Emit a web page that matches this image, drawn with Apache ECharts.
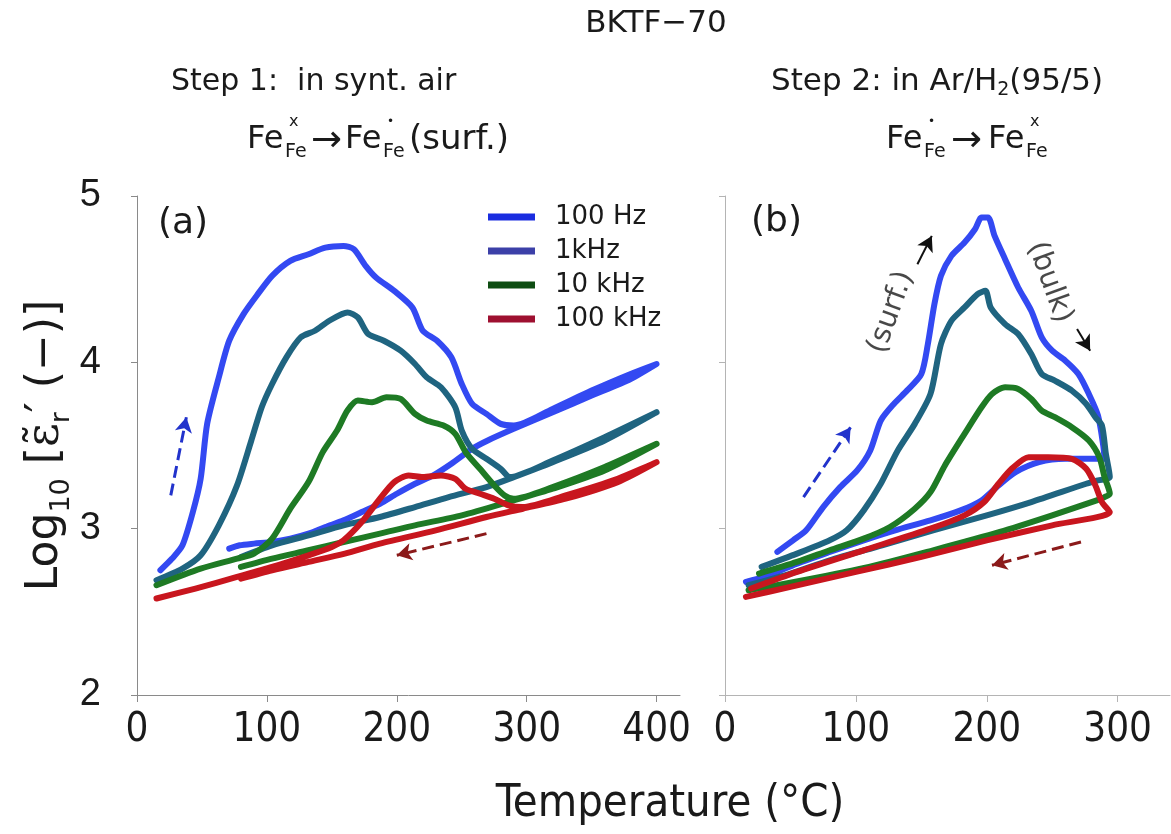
<!DOCTYPE html>
<html><head><meta charset="utf-8">
<script src="https://cdn.jsdelivr.net/npm/echarts@6/dist/echarts.min.js"></script>
<style>html,body{margin:0;padding:0;background:#fff}#c{width:1171px;height:834px}</style>
</head><body><div id="c"></div>
<script>
// ---------- data ----------
const seriesNames = ['100 Hz', '1kHz', '10 kHz', '100 kHz'];
const xTicksA = [0, 100, 200, 300, 400];
const xTicksB = [0, 100, 200, 300];
const yTicks = [2, 3, 4, 5];

// Panel (a): Step 1 in synthetic air (heating, then cooling)
const a100Hz = [[18,2.75],[27,2.82],[35,2.90],[43,3.10],[49,3.30],[54,3.63],[63,3.91],[71,4.13],[82,4.29],[93,4.41],[104,4.52],[118,4.61],[132,4.65],[145,4.69],[159,4.70],[167,4.68],[176,4.58],[184,4.51],[198,4.43],[212,4.33],[220,4.19],[231,4.13],[242,4.03],[250,3.87],[258,3.75],[269,3.69],[280,3.63],[290,3.62],[320,3.72],[350,3.83],[380,3.93],[400,3.99],
  [380,3.90],[350,3.80],[320,3.70],[290,3.60],[270,3.53],[258,3.48],[242,3.39],[228,3.32],[214,3.27],[200,3.21],[187,3.15],[173,3.10],[159,3.05],[145,3.01],[132,2.97],[118,2.94],[104,2.92],[90,2.91],[79,2.90],[71,2.88]];
const a1kHz = [[15,2.69],[35,2.76],[49,2.84],[63,3.02],[77,3.26],[88,3.53],[96,3.73],[104,3.87],[115,4.03],[126,4.15],[137,4.19],[148,4.25],[162,4.30],[170,4.27],[178,4.17],[190,4.13],[203,4.07],[214,3.99],[223,3.91],[234,3.85],[245,3.73],[250,3.59],[258,3.48],[269,3.42],[280,3.36],[287,3.31],[320,3.41],[360,3.55],[400,3.70],
  [360,3.53],[320,3.40],[290,3.31],[269,3.25],[240,3.19],[214,3.13],[187,3.07],[159,3.02],[132,2.96],[104,2.90],[80,2.83]];
const a10kHz = [[15,2.66],[49,2.76],[77,2.82],[90,2.85],[104,2.94],[118,3.12],[132,3.28],[143,3.46],[154,3.59],[162,3.71],[170,3.77],[181,3.76],[192,3.79],[203,3.78],[214,3.69],[223,3.65],[236,3.62],[245,3.57],[253,3.46],[264,3.36],[275,3.26],[283,3.20],[290,3.18],[320,3.25],[360,3.37],[400,3.51],
  [360,3.35],[320,3.24],[290,3.17],[250,3.08],[214,3.02],[187,2.97],[159,2.92],[132,2.87],[104,2.82],[80,2.77]];
const a100kHz = [[15,2.58],[45,2.64],[77,2.71],[104,2.77],[132,2.84],[150,2.89],[159,2.93],[173,3.04],[187,3.18],[198,3.28],[209,3.32],[220,3.31],[234,3.32],[245,3.30],[253,3.24],[264,3.21],[275,3.18],[286,3.14],[297,3.13],[330,3.20],[370,3.30],[400,3.40],
  [370,3.28],[330,3.18],[297,3.12],[269,3.07],[230,2.99],[187,2.91],[160,2.85],[132,2.80],[104,2.75],[80,2.70]];

// Panel (b): Step 2 in Ar/H2 (95/5)
const b100Hz = [[40,2.86],[52,2.93],[62,2.99],[75,3.13],[88,3.25],[101,3.35],[111,3.47],[119,3.65],[129,3.75],[139,3.83],[150,3.93],[155,4.11],[160,4.35],[165,4.52],[173,4.64],[183,4.72],[191,4.80],[196,4.87],[201,4.87],[206,4.76],[214,4.62],[224,4.45],[234,4.31],[242,4.15],[250,4.07],[260,4.01],[270,3.93],[278,3.81],[285,3.68],[289,3.50],[290,3.42],
  [283,3.42],[260,3.42],[240,3.40],[222,3.34],[209,3.26],[196,3.17],[180,3.11],[157,3.05],[130,2.99],[106,2.93],[80,2.86],[55,2.79],[30,2.71],[16,2.68]];
const b1kHz = [[28,2.77],[55,2.85],[80,2.93],[93,2.99],[106,3.11],[119,3.27],[132,3.47],[145,3.63],[157,3.81],[165,4.11],[173,4.25],[183,4.33],[193,4.41],[199,4.43],[203,4.33],[214,4.23],[224,4.17],[234,4.05],[242,3.93],[252,3.89],[265,3.83],[276,3.75],[283,3.67],[288,3.62],[291,3.45],[294,3.31],
  [285,3.29],[276,3.27],[234,3.16],[200,3.08],[159,2.99],[120,2.90],[80,2.81],[50,2.73],[18,2.66]];
const b10kHz = [[26,2.73],[55,2.80],[80,2.87],[106,2.94],[126,3.01],[145,3.12],[157,3.22],[168,3.38],[183,3.57],[196,3.73],[204,3.81],[214,3.85],[224,3.84],[234,3.78],[242,3.71],[252,3.67],[265,3.61],[278,3.53],[286,3.43],[290,3.31],[294,3.21],
  [290,3.19],[284,3.17],[250,3.08],[210,2.98],[159,2.87],[110,2.77],[60,2.69],[18,2.63]];
const b100kHz = [[20,2.64],[55,2.74],[106,2.87],[157,3.00],[183,3.08],[198,3.16],[209,3.27],[219,3.36],[232,3.43],[247,3.43],[265,3.42],[276,3.36],[283,3.26],[288,3.16],[294,3.10],
  [250,3.02],[200,2.93],[150,2.83],[100,2.74],[50,2.65],[16,2.59]];

// annotation arrows [from, to]
const arrowsA = [[[26,3.20],[38,3.67]], [[269,2.97],[200,2.84]]];
const arrowsB = [[[60,3.19],[96,3.61]], [[272,2.92],[204,2.78]], [[147,4.59],[158,4.76]], [[269,4.20],[279,4.07]]];
const notesB = ['(surf.)', '(bulk)'];
const notesBPos = [[127,4.30], [248,4.48]];

// ---------- style ----------
const lineColors = ['#3349f2', '#1f6480', '#1e7a24', '#c8161e'];
const legendColors = ['#1a2de0', '#3c40a8', '#0e4d12', '#9e1030'];
const arrowColorsA = ['#2233cc', '#8b1a1a'];
const arrowColorsB = ['#2233cc', '#8b1a1a', '#111', '#111'];
const arrowTypesB = ['dashed', 'dashed', 'solid', 'solid'];
const arrowWidthsB = [3, 3, 2, 2];
const FONT = "'DejaVu Sans', 'Liberation Sans', sans-serif";
const ARIAL = "'Liberation Sans', Arial, sans-serif";
const NARROW = "'DejaVu Sans Condensed', 'Liberation Sans Narrow', 'Liberation Sans', sans-serif";
const TXT = '#1a1a1a';

const chart = echarts.init(document.getElementById('c'), null, {renderer: 'canvas'});

function xAxisCfg(grid, max, ticks, lineColor) {
  return {
    type: 'value', gridIndex: grid, min: 0, max: max,
    axisLine: {show: true, onZero: false, lineStyle: {color: lineColor, width: 1}},
    axisTick: {show: true, length: 7, customValues: ticks, lineStyle: {color: lineColor}},
    axisLabel: {customValues: ticks, fontSize: 40, fontFamily: NARROW, color: TXT, margin: 16},
    splitLine: {show: false}
  };
}
function yAxisCfg(grid, lineColor, showLabel) {
  return {
    type: 'value', gridIndex: grid, min: 2, max: 5, interval: 1,
    axisLine: {show: true, onZero: false, lineStyle: {color: lineColor, width: 1}},
    axisTick: {show: true, length: 6, customValues: yTicks, lineStyle: {color: lineColor}},
    axisLabel: {show: showLabel, customValues: yTicks, fontSize: 38, fontFamily: ARIAL, color: TXT, margin: 36},
    splitLine: {show: false}
  };
}
function curve(name, data, idx, grid) {
  return {
    name: name, type: 'line', xAxisIndex: grid, yAxisIndex: grid, data: data,
    showSymbol: false, smooth: 0.25, color: lineColors[idx],
    lineStyle: {width: 6, color: lineColors[idx], cap: 'round', join: 'round'},
    z: 2 + idx
  };
}
function arrowSeries(grid, arrows, colors, types, widths) {
  return {
    type: 'line', xAxisIndex: grid, yAxisIndex: grid, data: [], silent: true,
    markLine: {
      silent: true, symbol: ['none', 'arrow'], symbolSize: [13, 15], animation: false,
      label: {show: false},
      data: arrows.map((a, i) => [
        {coord: a[0], lineStyle: {color: colors[i], width: widths ? widths[i] : 3, type: types ? types[i] : 'dashed'}, itemStyle: {color: colors[i]}},
        {coord: a[1]}
      ])
    },
    z: 10
  };
}
function txt(x, y, text, size, extra) {
  return Object.assign({type: 'text', x: x, y: y, style: Object.assign({text: text, fontSize: size, fontFamily: FONT, fill: TXT, align: 'left', verticalAlign: 'middle'}, extra || {})});
}
function feStack(x, y, mark) {
  return [
    txt(x, y, 'Fe', 32),
    txt(x + 38, y + 12, 'Fe', 19),
    txt(x + 42, y - 18, mark, mark === 'x' ? 16 : 12)
  ];
}

const graphics = [
  txt(656, 24, 'BKTF\u221270', 31, {align: 'center'}),
  txt(171, 82, 'Step 1:  in synt. air', 30),
  {type: 'text', x: 771, y: 82, style: {
    text: '{n|Step 2: in Ar/H}{s|2}{n|(95/5)}', fontFamily: FONT, fill: TXT, align: 'left', verticalAlign: 'middle',
    rich: {n: {fontSize: 31, lineHeight: 36, fontFamily: FONT, fill: TXT}, s: {fontSize: 19, lineHeight: 18, verticalAlign: 'bottom', fontFamily: FONT, fill: TXT}}
  }},
  ...feStack(247, 140, 'x'),
  txt(311, 141, '\u2192', 37),
  ...feStack(345, 140, '\u2022'),
  txt(409, 140, '(surf.)', 34),
  ...feStack(886, 140, '\u2022'),
  txt(951, 141, '\u2192', 37),
  ...feStack(988, 140, 'x'),
  txt(158, 224, '(a)', 36),
  txt(751, 222, '(b)', 36),
  txt(670, 804, 'Temperature (\u00B0C)', 45, {align: 'center', fontFamily: NARROW})
];

const option = {
  animation: false,
  backgroundColor: '#fff',
  grid: [
    {left: 137, top: 196, width: 543, height: 499},
    {left: 725, top: 196, width: 445, height: 499}
  ],
  xAxis: [xAxisCfg(0, 418, xTicksA, '#8a8a8a'), xAxisCfg(1, 340, xTicksB, '#b4b4b4')],
  yAxis: [
    Object.assign(yAxisCfg(0, '#8a8a8a', true), {
      name: '{n|Log}{s|10}{n| [}{e|\u03B5\u0303}{s|r}{n|\u2032 (\u2212)]}',
      nameLocation: 'middle', nameGap: 62, nameRotate: 90,
      nameTextStyle: {
        fontFamily: FONT, color: TXT,
        rich: {
          n: {fontSize: 44, fontFamily: FONT, color: TXT, lineHeight: 58},
          e: {fontSize: 46, fontFamily: "'DejaVu Serif', serif", color: TXT, lineHeight: 58},
          s: {fontSize: 27, fontFamily: FONT, color: TXT, lineHeight: 30, verticalAlign: 'bottom'}
        }
      }
    }),
    yAxisCfg(1, '#b4b4b4', false)
  ],
  legend: {
    left: 483, top: 199, orient: 'vertical', icon: 'rect', itemWidth: 47, itemHeight: 7, itemGap: 8,
    textStyle: {fontSize: 26, fontFamily: FONT, color: TXT, padding: [0, 0, 0, 15]},
    data: seriesNames.map((n, i) => ({name: n, itemStyle: {color: legendColors[i]}}))
  },
  graphic: graphics,
  series: [
    curve(seriesNames[0], a100Hz, 0, 0),
    curve(seriesNames[1], a1kHz, 1, 0),
    curve(seriesNames[2], a10kHz, 2, 0),
    curve(seriesNames[3], a100kHz, 3, 0),
    curve(seriesNames[0], b100Hz, 0, 1),
    curve(seriesNames[1], b1kHz, 1, 1),
    curve(seriesNames[2], b10kHz, 2, 1),
    curve(seriesNames[3], b100kHz, 3, 1),
    arrowSeries(0, arrowsA, arrowColorsA),
    arrowSeries(1, arrowsB, arrowColorsB, arrowTypesB, arrowWidthsB),
    {
      type: 'scatter', xAxisIndex: 1, yAxisIndex: 1, symbolSize: 0, silent: true, z: 12,
      data: notesB.map((t, i) => ({
        value: notesBPos[i],
        label: {show: true, formatter: t, rotate: i === 0 ? 70 : -70, position: 'inside',
                fontSize: 29, fontFamily: FONT, color: TXT}
      }))
    }
  ]
};
chart.setOption(option);
</script>
</body></html>
